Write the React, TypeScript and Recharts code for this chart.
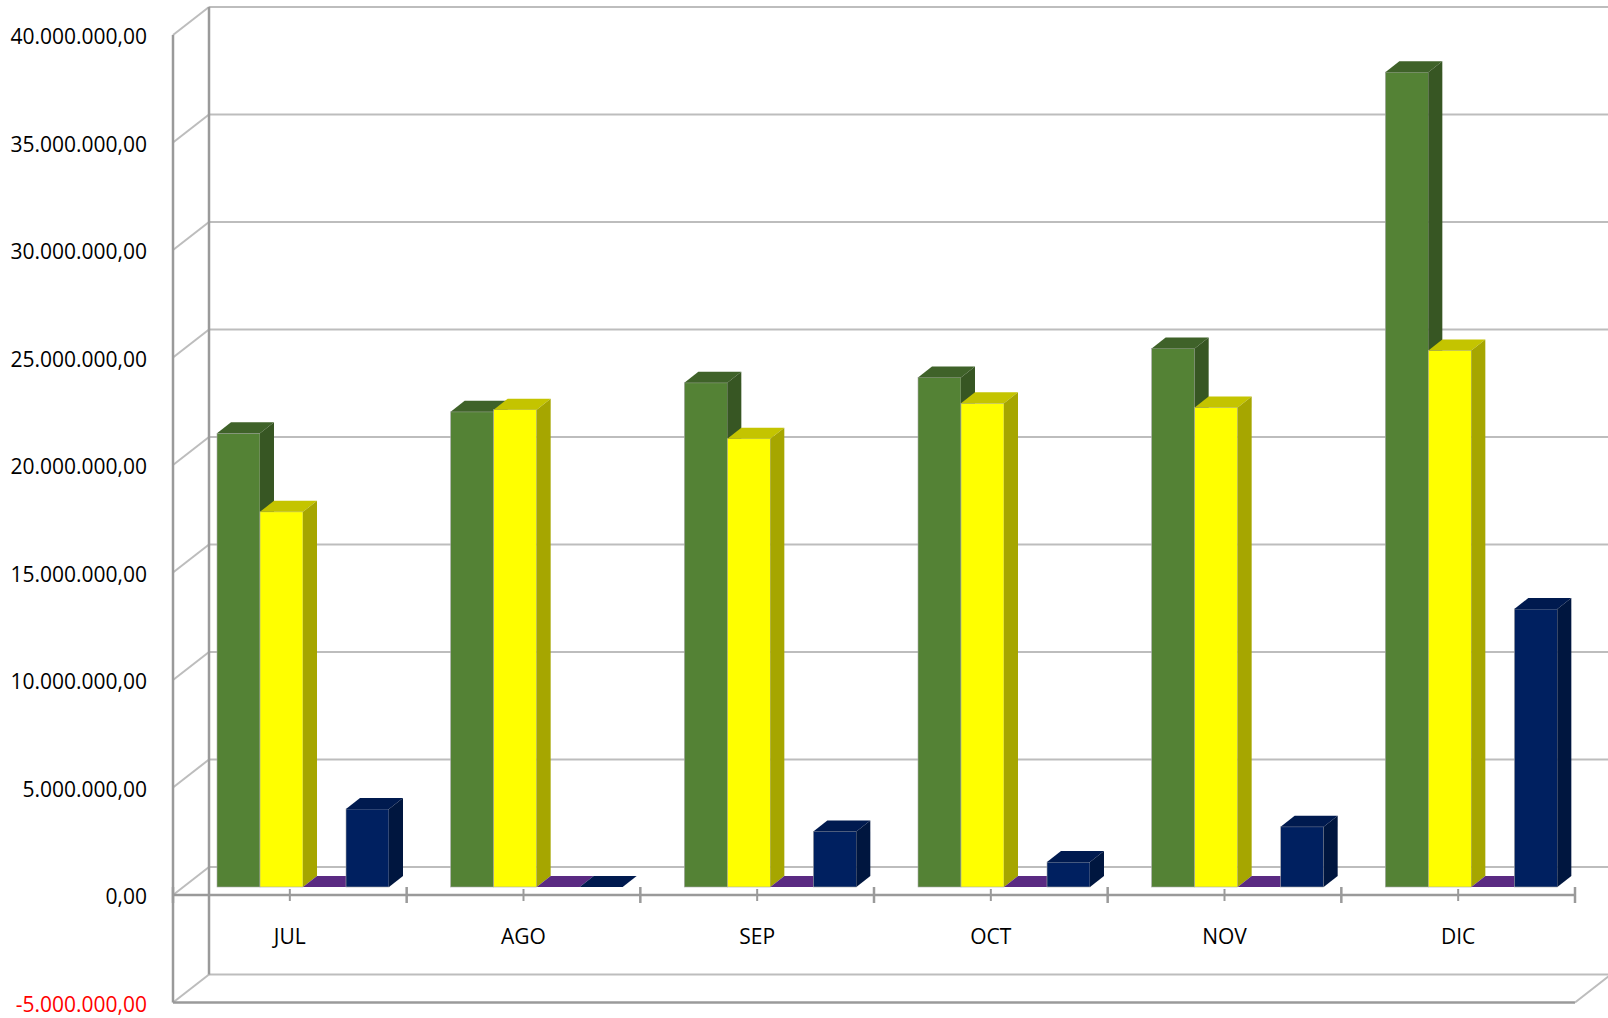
import React from 'react';
import {
  BarChart,
  Bar,
  XAxis,
  YAxis,
  CartesianGrid,
  ReferenceLine,
  ReferenceArea,
} from 'recharts';

const MONTHS = ['JUL', 'AGO', 'SEP', 'OCT', 'NOV', 'DIC'];
const SERIE_VERDE = [21100000, 22100000, 23450000, 23700000, 25050000, 37900000];
const SERIE_AMARILLA = [17450000, 22200000, 20850000, 22500000, 22300000, 24950000];
const SERIE_MORADA = [0, 0, 0, 0, 0, 0];
const SERIE_AZUL = [3630000, 0, 2580000, 1160000, 2800000, 12930000];
const Y_TICKS = [-5000000, 0, 5000000, 10000000, 15000000, 20000000, 25000000, 30000000, 35000000, 40000000];

const data = MONTHS.map((m, i) => ({
  mes: m,
  verde: SERIE_VERDE[i],
  amarilla: SERIE_AMARILLA[i],
  morada: SERIE_MORADA[i],
  azul: SERIE_AZUL[i],
}));

// pseudo 3D offsets (front wall, back wall, bar depth)
const FRONT = { dx: -13, dy: 8 };
const BACK = { dx: 23, dy: -20 };
const DEPTH = { dx: 14, dy: 11 };

const FONT = '"Open Sans", "Noto Sans", sans-serif';
const WALL = '#9a9a9a';
const GRID = '#bdbdbd';

const fmt = (v: number) => {
  const neg = v < 0;
  const s = Math.abs(Math.round(v)).toString().replace(/\B(?=(\d{3})+(?!\d))/g, '.');
  return (neg ? '-' : '') + s + ',00';
};

const bar3d = (front: string, top: string, side: string) => (props: any) => {
  const { x, y, width: w, height: h } = props;
  if (x == null || y == null) return <g />;
  const bottom = y + h;
  return (
    <g>
      <rect x={x} y={y} width={w} height={h} fill={front} stroke="#a8a8a8" strokeWidth={0.6} />
      <polygon
        points={`${x},${y} ${x + DEPTH.dx},${y - DEPTH.dy} ${x + w + DEPTH.dx},${y - DEPTH.dy} ${x + w},${y}`}
        fill={top}
      />
      <polygon
        points={`${x + w},${y} ${x + w + DEPTH.dx},${y - DEPTH.dy} ${x + w + DEPTH.dx},${bottom - DEPTH.dy} ${x + w},${bottom}`}
        fill={side}
      />
    </g>
  );
};

const gridLine = (props: any) => {
  const { x1, y1, x2, key } = props;
  return (
    <g key={key}>
      <line x1={x1 + BACK.dx} y1={y1 + BACK.dy} x2={x2 + BACK.dx + 40} y2={y1 + BACK.dy} stroke={GRID} strokeWidth={2.2} />
      <line x1={x1 + FRONT.dx} y1={y1 + FRONT.dy} x2={x1 + BACK.dx} y2={y1 + BACK.dy} stroke={GRID} strokeWidth={2} />
    </g>
  );
};

const wallEdges = (props: any) => {
  const { x, y, height } = props;
  return (
    <g>
      <line x1={x + FRONT.dx} y1={y + FRONT.dy} x2={x + FRONT.dx} y2={y + height + FRONT.dy} stroke={WALL} strokeWidth={2.5} />
      <line x1={x + BACK.dx} y1={y + BACK.dy} x2={x + BACK.dx} y2={y + height + BACK.dy} stroke={WALL} strokeWidth={2.5} />
    </g>
  );
};

const zeroAxis = (props: any) => {
  const { x1, y1, x2 } = props;
  const yy = y1 + FRONT.dy;
  const band = (x2 - x1) / MONTHS.length;
  const ticks = [];
  for (let k = 0; k <= MONTHS.length * 2; k++) {
    const tx = x1 + FRONT.dx + (k * band) / 2;
    const big = k % 2 === 0;
    ticks.push(
      <line key={k} x1={tx} y1={yy - (big ? 8 : 6)} x2={tx} y2={yy + (big ? 8 : 6)} stroke={WALL} strokeWidth={big ? 2.5 : 2} />
    );
  }
  return (
    <g>
      <line x1={x1 + FRONT.dx} y1={yy} x2={x2 + FRONT.dx} y2={yy} stroke={WALL} strokeWidth={2.5} />
      {ticks}
    </g>
  );
};

const floorFront = (props: any) => {
  const { x1, y1, x2 } = props;
  return (
    <g>
      <line x1={x1 + FRONT.dx} y1={y1 + FRONT.dy} x2={x2 + FRONT.dx} y2={y1 + FRONT.dy} stroke={WALL} strokeWidth={2.5} />
      <line x1={x2 + FRONT.dx} y1={y1 + FRONT.dy} x2={x2 + BACK.dx} y2={y1 + BACK.dy} stroke={GRID} strokeWidth={2} />
    </g>
  );
};

const YTick = (props: any) => {
  const { x, y, payload } = props;
  return (
    <text
      x={x - 39}
      y={y + FRONT.dy + 1}
      textAnchor="end"
      dominantBaseline="central"
      fontSize={21}
      fontFamily={FONT}
      fill={payload.value < 0 ? '#FF0000' : '#000000'}
    >
      {fmt(payload.value)}
    </text>
  );
};

const XTick = (props: any) => {
  const { x, y, payload } = props;
  return (
    <text x={x + FRONT.dx} y={y - 59} textAnchor="middle" dominantBaseline="central" fontSize={21} fontFamily={FONT} fill="#000000">
      {payload.value}
    </text>
  );
};

export default function App() {
  return (
    <div style={{ position: 'absolute', left: 0, top: 0, width: 1608, height: 1018, background: '#ffffff' }}>
      <BarChart
        width={1608}
        height={1018}
        data={data}
        margin={{ top: 27, right: 20, bottom: 0, left: 0 }}
        barCategoryGap={31}
        barGap={0}
      >
        <CartesianGrid horizontal={gridLine} vertical={false} />
        <XAxis dataKey="mes" height={23.5} axisLine={false} tickLine={false} tickSize={0} tickMargin={0} tick={(p: any) => <XTick {...p} />} />
        <YAxis
          width={186}
          domain={[-5000000, 40000000]}
          ticks={Y_TICKS}
          allowDataOverflow
          axisLine={false}
          tickLine={false}
          tickSize={0}
          tickMargin={0}
          tick={(p: any) => <YTick {...p} />}
        />
        <ReferenceArea y1={-5000000} y2={40000000} ifOverflow="visible" shape={wallEdges} />
        <ReferenceLine y={-5000000} ifOverflow="visible" shape={floorFront} />
        <ReferenceLine y={0} ifOverflow="visible" shape={zeroAxis} />
        <Bar dataKey="verde" isAnimationActive={false} shape={bar3d('#548235', '#3f6229', '#375623')} />
        <Bar dataKey="amarilla" isAnimationActive={false} shape={bar3d('#FFFF00', '#C4C400', '#A6A600')} />
        <Bar dataKey="morada" isAnimationActive={false} shape={bar3d('#5A2A82', '#5A2A82', '#3f1d5c')} />
        <Bar dataKey="azul" isAnimationActive={false} shape={bar3d('#002060', '#001A4F', '#00163F')} />
      </BarChart>
    </div>
  );
}
